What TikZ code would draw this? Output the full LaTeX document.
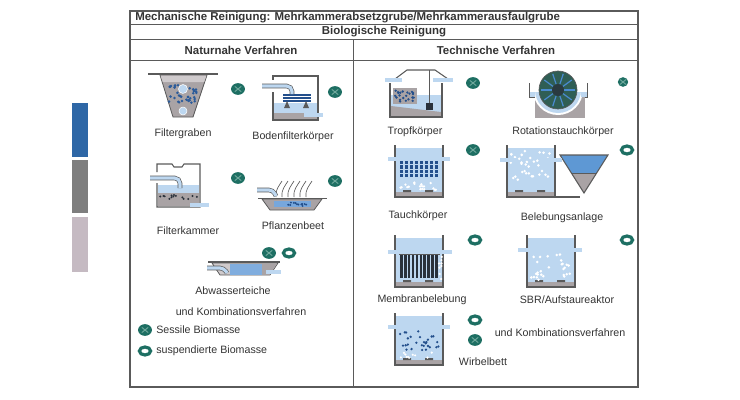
\documentclass[tikz,border=0pt]{standalone}
\usepackage{fontspec}
\setmainfont{Liberation Sans}
\usetikzlibrary{shapes.geometric}

\definecolor{water}{HTML}{BDD7F0}
\definecolor{sludge}{HTML}{A9A3A5}
\definecolor{sludgelight}{HTML}{CFCACC}
\definecolor{deepblue}{HTML}{234F8C}
\definecolor{midblue}{HTML}{4A8AD0}
\definecolor{funnelblue}{HTML}{5E98D4}
\definecolor{biogreen}{HTML}{1E6F63}
\definecolor{biolight}{HTML}{6FA89C}
\definecolor{discgreen}{HTML}{2F5E55}
\definecolor{frame}{HTML}{5A5A5A}
\definecolor{labeltext}{HTML}{333333}
\definecolor{membrane}{HTML}{29313B}
\definecolor{barblue}{HTML}{2E67A6}
\definecolor{bargray}{HTML}{7E7E7E}
\definecolor{barmauve}{HTML}{C5BAC2}

\tikzset{
  tank/.pic={
    \fill[water] (1,3) rectangle (47,47);
    \fill[sludge] (1,47) rectangle (47,51);
    \fill[frame] (8,45) rectangle (16,47) (30,45) rectangle (38,47);
    \draw[frame, line width=0.8pt] (0,0) -- (0,52) -- (48,52) -- (48,0);
  }
}

\begin{document}
\begin{tikzpicture}[x=0.75pt, y=-0.75pt,
  lbl/.style={font=\fontsize{8}{9}\selectfont, text=labeltext, inner sep=0pt},
  head/.style={font=\fontsize{8.6}{9}\selectfont\bfseries, text=labeltext, inner sep=0pt},
  sessile/.style={ellipse, fill=biogreen, inner sep=0pt,
    minimum width=10.4pt, minimum height=8.8pt,
    path picture={\draw[biolight, line width=0.7pt]
      ([shift={(-2.4pt,-2pt)}]path picture bounding box.center) --
      ([shift={(2.4pt,2pt)}]path picture bounding box.center)
      ([shift={(-2.4pt,2pt)}]path picture bounding box.center) --
      ([shift={(2.4pt,-2pt)}]path picture bounding box.center);}},
  suspended/.style={ellipse, draw=biogreen, line width=2.4pt, fill=white,
    inner sep=0pt, minimum width=8.4pt, minimum height=6pt},
  pipe/.style={draw=frame, double=water, double distance=2.4pt, line width=0.5pt},
  wall/.style={draw=frame, line width=0.8pt}]
\useasboundingbox (0,0) rectangle (740,400);
\pgfmathsetseed{4711}

% side bars
\fill[barblue] (72,103) rectangle (88,157);
\fill[bargray] (72,160) rectangle (88,213);
\fill[barmauve] (72,217) rectangle (88,272);

% table
\draw[frame, line width=0.9pt] (130,11) rectangle (638,387);
\draw[frame, line width=0.7pt] (130,24) -- (638,24) (130,39) -- (638,39)
  (130,60) -- (638,60) (353,39) -- (353,387);
\node[head, anchor=west] (mech) at (135,17.5)
  {Mechanische Reinigung: Mehrkammerabsetzgrube/Mehrkammerausfaulgrube};
\node[head] (bio) at (384,32) {Biologische Reinigung};
\node[head] (natur) at (241,50) {Naturnahe Verfahren};
\node[head] (tech) at (496,50) {Technische Verfahren};

% Filtergraben
\draw[frame, line width=0.9pt] (148,74) -- (218,74);
\filldraw[fill=sludge, draw=frame, line width=0.6pt] (160,75) -- (207,75) -- (193,117) -- (173,117) -- cycle;
\fill[sludgelight] (160.5,75.5) -- (206.5,75.5) -- (204.2,82) -- (162.8,82) -- cycle;
\foreach \i in {1,...,40}
  \fill[deepblue!80!midblue] ({169+28*rnd},{85+18*rnd}) circle (1.4);
\filldraw[fill=water, draw=white] (183,89) circle (4.5) (183,111) circle (4);
\node[lbl] (filtergraben) at (183,134) {Filtergraben};
\node[sessile] (s1) at (238,89) {};

% Bodenfilterkoerper
\fill[water] (274,103) rectangle (317,113);
\fill[sludge] (274,113) rectangle (317,119.5);
\foreach \yy in {95,98,101}
  \draw[deepblue, line width=1.2pt] (283,\yy) -- (311,\yy);
\fill[frame] (287,101) -- (290,108) -- (284,108) -- cycle (306,101) -- (309,108) -- (303,108) -- cycle;
\draw[wall] (273,92) -- (273,120) -- (318,120) -- (318,76) -- (273,76) -- (273,80);
\draw[pipe, rounded corners=4pt] (262,86) -- (292,86) -- (292,94);
\draw[pipe] (304,115) -- (323,115);
\node[lbl] (bodenfilter) at (293,137) {Bodenfilterkörper};
\node[sessile] (s2) at (335,92) {};

% Filterkammer
\fill[water] (158,185) rectangle (199,193);
\fill[sludge] (158,193) rectangle (199,206);
\foreach \i in {1,...,14}
  \fill[membrane] ({160+37*rnd},{195+4*rnd}) circle (1.1);
\draw[wall] (157,183) -- (157,207) -- (200,207) -- (200,164) -- (184,164) -- (182,167)
  -- (174,167) -- (172,164) -- (157,164) -- (157,172);
\draw[pipe, rounded corners=4pt] (150,178) -- (180,178) -- (180,188);
\draw[pipe] (190,205) -- (209,205);
\node[lbl] (filterkammer) at (188,231) {Filterkammer};
\node[sessile] (s3) at (238,178) {};

% Pflanzenbeet
\draw[frame, line width=0.9pt] (258,198.5) -- (327,198.5);
\filldraw[fill=sludge, draw=frame, line width=0.6pt] (262,199) -- (322,199) -- (314,210) -- (270,210) -- cycle;
\fill[midblue!75] (274,201) rectangle (311,207);
\foreach \i in {1,...,12}
  \fill[deepblue] ({276+33*rnd},{202+4*rnd}) circle (1.1);
\foreach \i in {0,...,5}
  \draw[frame, line width=0.5pt] ({276+\i*6},197) .. controls ({275+\i*6},190) and ({279+\i*6},186) .. ({282+\i*6},181);
\draw[pipe, rounded corners=3pt] (257,190) -- (273,190) -- (276,196);
\node[lbl] (pflanzenbeet) at (293,226) {Pflanzenbeet};
\node[sessile] (s4) at (335,181) {};

% Abwasserteiche
\draw[frame, line width=0.9pt] (208,262) -- (280,262);
\filldraw[fill=sludgelight, draw=frame, line width=0.6pt] (212,263) -- (278,263) -- (270,275) -- (220,275) -- cycle;
\fill[midblue!70] (230,263.5) rectangle (262,274.5);
\fill[sludge] (262,263.5) -- (277,263.5) -- (270,274.5) -- (262,274.5) -- cycle;
\draw[pipe, rounded corners=3pt] (207,268) -- (224,268) -- (227,273);
\draw[pipe] (266,272) -- (281,272);
\node[lbl] (teiche) at (233,291) {Abwasserteiche};
\node[lbl] (kombi1) at (241,312) {und Kombinationsverfahren};
\node[sessile] (s5) at (269,253) {};
\node[suspended] (u5) at (289,253) {};

% legend
\node[sessile] (legs) at (145,330) {};
\node[lbl, anchor=west] (legstext) at (156,330) {Sessile Biomasse};
\node[suspended] (legu) at (145,351) {};
\node[lbl, anchor=west] (legutext) at (156,351) {suspendierte Biomasse};

% Tropfkoerper
\fill[water] (391,95) rectangle (441,112);
\fill[sludge] (391,106) -- (441,112) -- (441,116.5) -- (391,116.5) -- cycle;
\fill[sludge] (393,88) rectangle (417,104);
\foreach \i in {1,...,22}
  \fill[deepblue] ({395+20*rnd},{90+12*rnd}) circle (1.3);
\draw[wall] (390,83) -- (390,117) -- (442,117) -- (442,83);
\draw[frame, line width=0.8pt] (395,79) -- (407,70) -- (435,70) -- (448,79);
\draw[frame, line width=0.6pt] (429,70) -- (429,104);
\fill[membrane] (426,103) rectangle (433,110);
\draw[pipe] (385,80) -- (402,80);
\draw[pipe] (433,80) -- (453,80);
\node[lbl] (tropf) at (415,132) {Tropfkörper};
\node[sessile] (s6) at (473,83) {};

% Rotationstauchkoerper
\begin{scope}
  \clip (528,92) rectangle (588,118);
  \fill[sludge] (535,92) rectangle (585,118);
  \fill[white] (558,90) circle (25);
  \fill[water] (558,90) circle (23);
\end{scope}
\fill[water] (529,92) rectangle (535,97) (581,92) rectangle (587,97);
\draw[frame, line width=0.7pt] (529,83) -- (529,97) -- (535,97) (587,83) -- (587,97) -- (585,97);
\filldraw[fill=discgreen, draw=frame, line width=0.5pt] (558,90) circle (19);
\foreach \a in {0,36,...,324}
  \draw[midblue, line width=0.9pt] (558,90) ++(\a:6) -- ++(\a:11);
\fill[membrane!80!discgreen] (558,90) circle (6);
\node[lbl] (rotation) at (563,132) {Rotationstauchkörper};
\node[sessile, minimum width=7.8pt, minimum height=7.2pt] (s7) at (623,82) {};

% Tauchkoerper
\pic at (395,145) {tank};
\foreach \i in {0,...,7}
  \draw[deepblue, line width=1.6pt, dash pattern=on 2.5pt off 0.8pt] ({401.5+\i*5},161) -- ++(0,16);
\foreach \i in {1,...,18}
  \fill[white] ({399+40*rnd},{179+11*rnd}) circle (1.3);
\draw[pipe] (388,159) -- (408,159);
\draw[pipe] (430,159) -- (450,159);
\node[lbl] (tauch) at (418,216) {Tauchkörper};
\node[sessile] (s8) at (473,150) {};

% Belebungsanlage
\pic at (507,145) {tank};
\foreach \i in {1,...,34}
  \fill[white] ({510+42*rnd},{151+33*rnd}) circle (1.4);
\fill[funnelblue] (560,155) -- (608,155) -- (596.7,173) -- (571.3,173) -- cycle;
\fill[sludge] (571.3,173) -- (596.7,173) -- (584,193) -- cycle;
\draw[wall] (560,155) -- (608,155) -- (584,193) -- cycle;
\draw[frame, line width=0.5pt] (571.3,173) -- (596.7,173);
\draw[frame, line width=0.8pt] (540,197) -- (580,197);
\draw[pipe] (500,160) -- (516,160);
\draw[pipe] (546,160) -- (562,160);
\node[lbl] (belebung) at (562,218) {Belebungsanlage};
\node[suspended] (u9) at (627,150) {};

% Membranbelebung
\pic at (395,235) {tank};
\foreach \i in {0,...,9}
  \fill[membrane] ({400+\i*3.9},255) rectangle ++(2.6,23);
\foreach \i in {1,...,8}
  \fill[white] ({439+3*rnd},{256+24*rnd}) circle (1.2);
\draw[frame, line width=0.5pt] (399,254) -- (440,254);
\draw[pipe] (388,252) -- (401,252);
\draw[pipe] (437,252) -- (452,252);
\node[lbl] (membran) at (422,300) {Membranbelebung};
\node[suspended] (u10) at (475,240) {};

% SBR
\pic at (527,235) {tank};
\foreach \i in {1,...,28}
  \fill[white] ({531+40*rnd},{253+27*rnd}) circle (1.4);
\draw[pipe] (518,250) -- (535,250);
\draw[pipe] (565,250) -- (582,250);
\node[lbl] (sbr) at (567,300) {SBR/Aufstaureaktor};
\node[suspended] (u11) at (627,240) {};

% Wirbelbett
\pic at (395,313) {tank};
\foreach \i in {1,...,28}
  \fill[deepblue] ({399+40*rnd},{331+20*rnd}) circle (1.3);
\foreach \i in {1,...,10}
  \fill[white] ({400+38*rnd},{352+6*rnd}) circle (1.2);
\draw[pipe] (388,327) -- (408,327);
\draw[pipe] (430,327) -- (450,327);
\node[lbl] (wirbel) at (483,362) {Wirbelbett};
\node[suspended] (u12) at (475,320) {};
\node[sessile] (s12) at (475,340) {};
\node[lbl] (kombi2) at (560,333) {und Kombinationsverfahren};
\end{tikzpicture}
\end{document}
